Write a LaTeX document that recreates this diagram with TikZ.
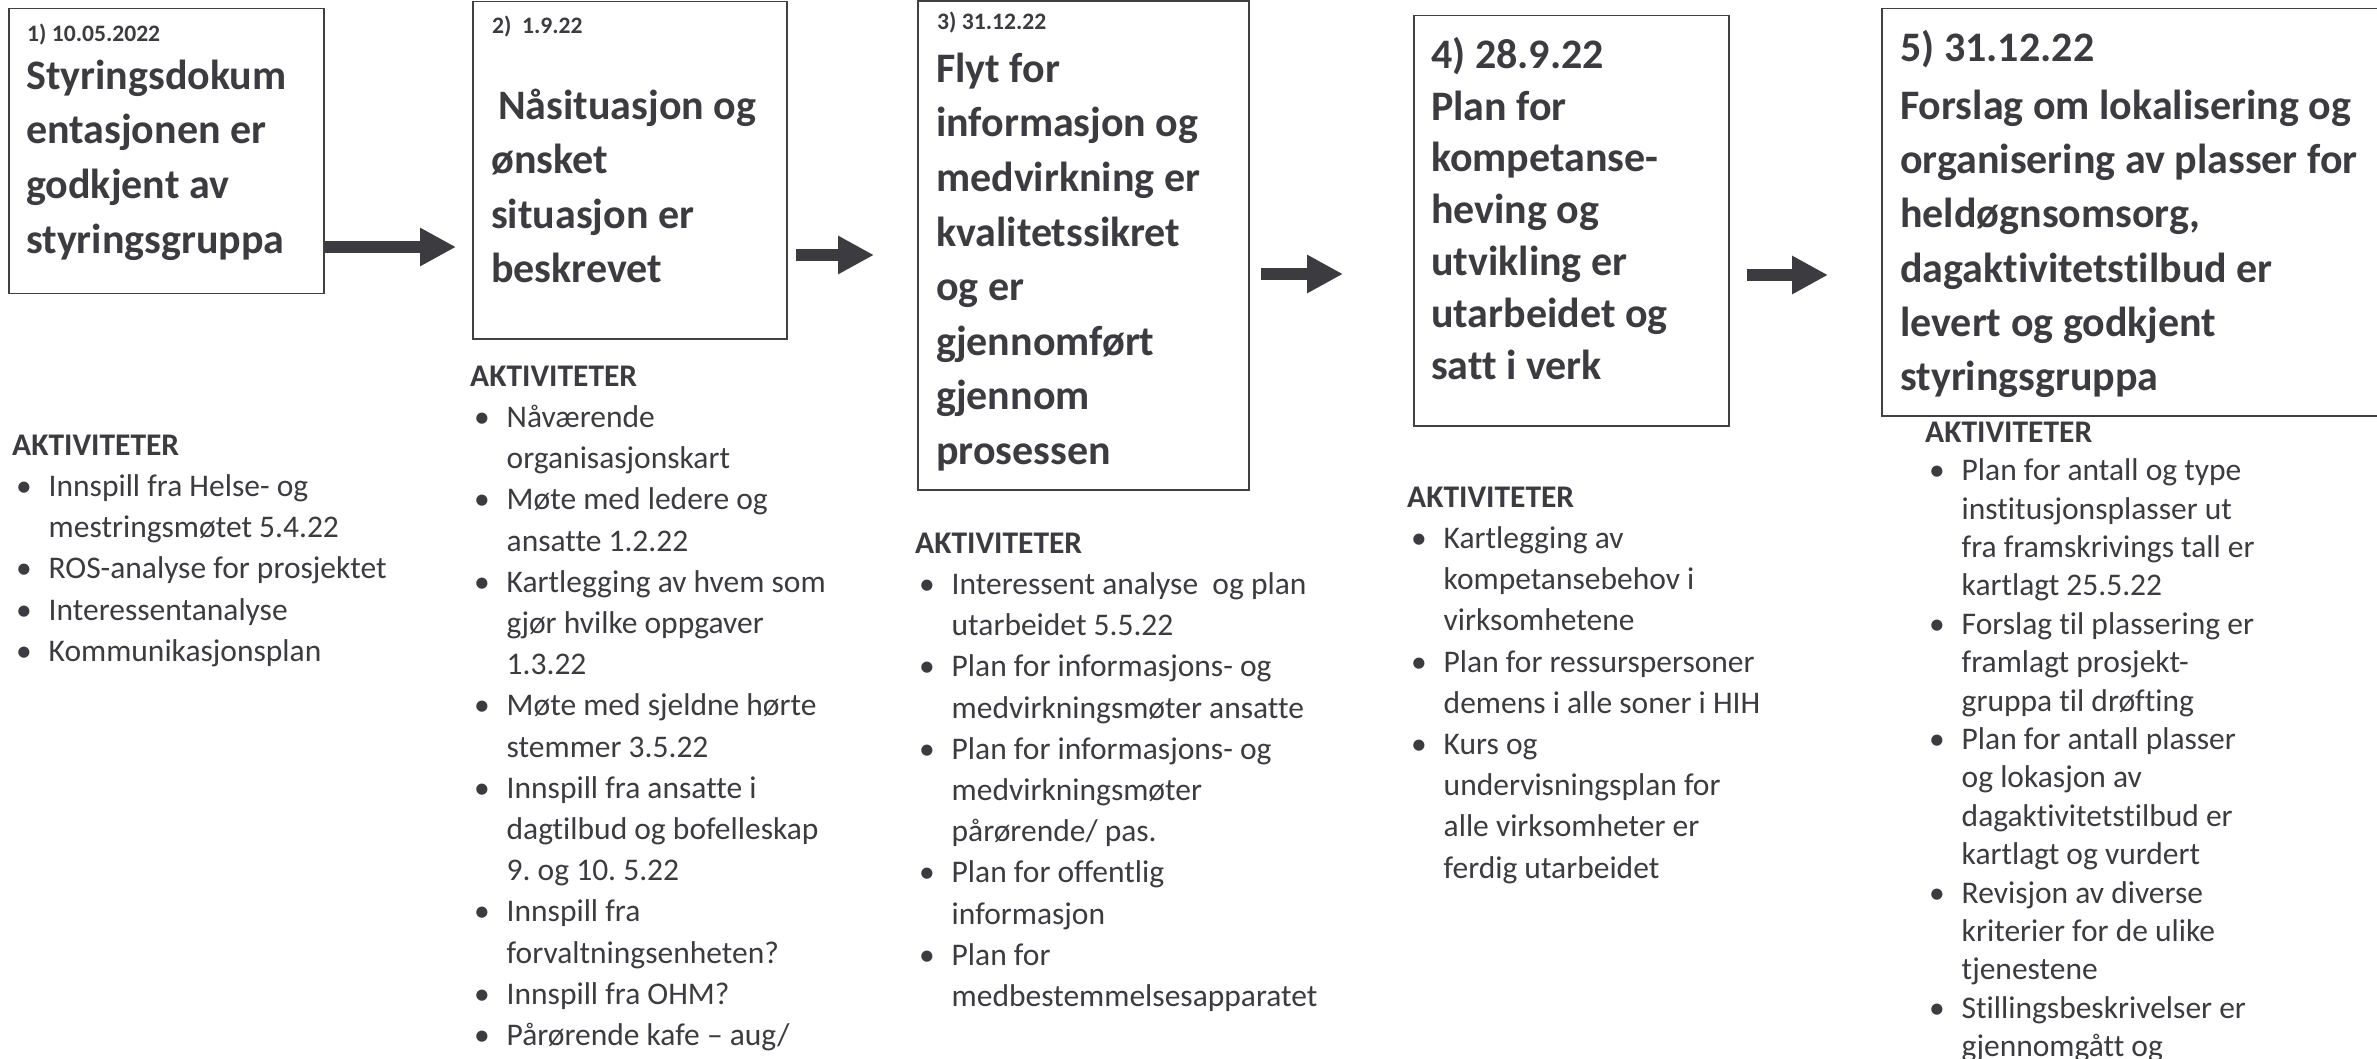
\documentclass[tikz,border=0pt]{standalone}
\usepackage{fontspec}
\setmainfont{Carlito}[Ligatures={TeX,NoCommon,NoContextual}]
\usetikzlibrary{arrows.meta}
\definecolor{ink}{RGB}{59,59,64}
\definecolor{frame}{RGB}{64,64,64}
\newcommand{\bitem}{\hspace*{4pt}\makebox[32.5pt][l]{•}}
\newcommand{\bcont}{\hspace*{36.5pt}}
\begin{document}
\frenchspacing
\begin{tikzpicture}[x=1pt,y=-1pt,
  stepbox/.style={draw=frame, line width=1.5pt, inner sep=0pt, anchor=north west},
  bigtitle/.style={anchor=north west, inner sep=0pt, align=left, text=ink},
  datelbl/.style={anchor=north west, inner sep=0pt, align=left, text=ink,
    font=\bfseries\fontsize{23.6}{28}\selectfont},
  actlist/.style={anchor=north west, inner sep=0pt, align=left, text=ink},
  bigarrow/.style={draw=ink, line width=12pt, -{Triangle[length=36pt,width=36pt]}}]
\useasboundingbox (0,0) rectangle (2377,1059);

% boxes
\node[stepbox, minimum width=315pt, minimum height=285pt] (b1) at (8,8) {};
\node[stepbox, minimum width=314pt, minimum height=337pt] (b2) at (472,1) {};
\node[stepbox, minimum width=331pt, minimum height=488.5pt] (b3) at (917,0.5) {};
\node[stepbox, minimum width=315pt, minimum height=410pt] (b4) at (1413,15) {};
\node[stepbox, minimum width=520pt, minimum height=407pt] (b5) at (1881,8) {};

% dates
\node[datelbl] (d1) at (27,19) {\rule{0pt}{22pt}1) 10.05.2022};
\node[datelbl] (d2) at (492,11) {\rule{0pt}{22pt}2)~~1.9.22};
\node[datelbl] (d3) at (937,7) {\rule{0pt}{22pt}3) 31.12.22};

% titles
\node[bigtitle, font=\bfseries\fontsize{42}{54.8}\selectfont] (t1) at (26,49)
  {\rule{0pt}{40pt}Styringsdokum\\entasjonen er\\godkjent av\\styringsgruppa};
\node[bigtitle, font=\bfseries\fontsize{42}{54.5}\selectfont] (t2) at (491,79)
  {\rule{0pt}{40pt}\hspace*{7pt}Nåsituasjon og\\ønsket\\situasjon er\\beskrevet};
\node[bigtitle, font=\bfseries\fontsize{42}{54.6}\selectfont] (t3) at (936,42)
  {\rule{0pt}{40pt}Flyt for\\informasjon og\\medvirkning er\\kvalitetssikret\\og er\\gjennomført\\gjennom\\prosessen};
\node[bigtitle, font=\bfseries\fontsize{42}{51.8}\selectfont] (t4) at (1431,28)
  {\rule{0pt}{40pt}4) 28.9.22\\Plan for\\kompetanse-\\heving og\\utvikling er\\utarbeidet og\\satt i verk};
\node[bigtitle, font=\bfseries\fontsize{42}{51}\selectfont] (d5) at (1900,21)
  {\rule{0pt}{40pt}5) 31.12.22};
\node[bigtitle, font=\bfseries\fontsize{42}{54.3}\selectfont] (t5) at (1900,79)
  {\rule{0pt}{40pt}Forslag om lokalisering og\\organisering av plasser for\\heldøgnsomsorg,\\dagaktivitetstilbud er\\levert og godkjent\\styringsgruppa};

% activity lists
\node[actlist, font=\fontsize{31.5}{41.2}\selectfont] (l1) at (12,425)
  {\rule{0pt}{30pt}\textbf{AKTIVITETER}\\
   \bitem Innspill fra Helse- og\\
   \bcont mestringsmøtet 5.4.22\\
   \bitem ROS-analyse for prosjektet\\
   \bitem Interessentanalyse\\
   \bitem Kommunikasjonsplan};
\node[actlist, font=\fontsize{31.5}{41.2}\selectfont] (l2) at (470,356)
  {\rule{0pt}{30pt}\textbf{AKTIVITETER}\\
   \bitem Nåværende\\
   \bcont organisasjonskart\\
   \bitem Møte med ledere og\\
   \bcont ansatte 1.2.22\\
   \bitem Kartlegging av hvem som\\
   \bcont gjør hvilke oppgaver\\
   \bcont 1.3.22\\
   \bitem Møte med sjeldne hørte\\
   \bcont stemmer 3.5.22\\
   \bitem Innspill fra ansatte i\\
   \bcont dagtilbud og bofelleskap\\
   \bcont 9. og 10. 5.22\\
   \bitem Innspill fra\\
   \bcont forvaltningsenheten?\\
   \bitem Innspill fra OHM?\\
   \bitem Pårørende kafe – aug/};
\node[actlist, font=\fontsize{31.5}{41.2}\selectfont] (l3) at (915,523)
  {\rule{0pt}{30pt}\textbf{AKTIVITETER}\\
   \bitem Interessent analyse~~og plan\\
   \bcont utarbeidet 5.5.22\\
   \bitem Plan for informasjons- og\\
   \bcont medvirkningsmøter ansatte\\
   \bitem Plan for informasjons- og\\
   \bcont medvirkningsmøter\\
   \bcont pårørende/ pas.\\
   \bitem Plan for offentlig\\
   \bcont informasjon\\
   \bitem Plan for\\
   \bcont medbestemmelsesapparatet};
\node[actlist, font=\fontsize{31.5}{41.2}\selectfont] (l4) at (1407,477)
  {\rule{0pt}{30pt}\textbf{AKTIVITETER}\\
   \bitem Kartlegging av\\
   \bcont kompetansebehov i\\
   \bcont virksomhetene\\
   \bitem Plan for ressurspersoner\\
   \bcont demens i alle soner i HIH\\
   \bitem Kurs og\\
   \bcont undervisningsplan for\\
   \bcont alle virksomheter er\\
   \bcont ferdig utarbeidet};
\node[actlist, font=\fontsize{31.5}{38.4}\selectfont] (l5) at (1925,412)
  {\rule{0pt}{30pt}\textbf{AKTIVITETER}\\
   \bitem Plan for antall og type\\
   \bcont institusjonsplasser ut\\
   \bcont fra framskrivings tall er\\
   \bcont kartlagt 25.5.22\\
   \bitem Forslag til plassering er\\
   \bcont framlagt prosjekt-\\
   \bcont gruppa til drøfting\\
   \bitem Plan for antall plasser\\
   \bcont og lokasjon av\\
   \bcont dagaktivitetstilbud er\\
   \bcont kartlagt og vurdert\\
   \bitem Revisjon av diverse\\
   \bcont kriterier for de ulike\\
   \bcont tjenestene\\
   \bitem Stillingsbeskrivelser er\\
   \bcont gjennomgått og};

% arrows
\coordinate (a1s) at (b1.east |- 0,247);
\coordinate (a1e) at (456,247);
\coordinate (a2s) at (796,255);
\coordinate (a2e) at (874,255);
\coordinate (a3s) at (1261,274);
\coordinate (a3e) at (1343,274);
\coordinate (a4s) at (1747,275);
\coordinate (a4e) at (1828,275);
\draw[bigarrow] (a1s) -- (a1e);
\draw[bigarrow] (a2s) -- (a2e);
\draw[bigarrow] (a3s) -- (a3e);
\draw[bigarrow] (a4s) -- (a4e);
\end{tikzpicture}
\end{document}
